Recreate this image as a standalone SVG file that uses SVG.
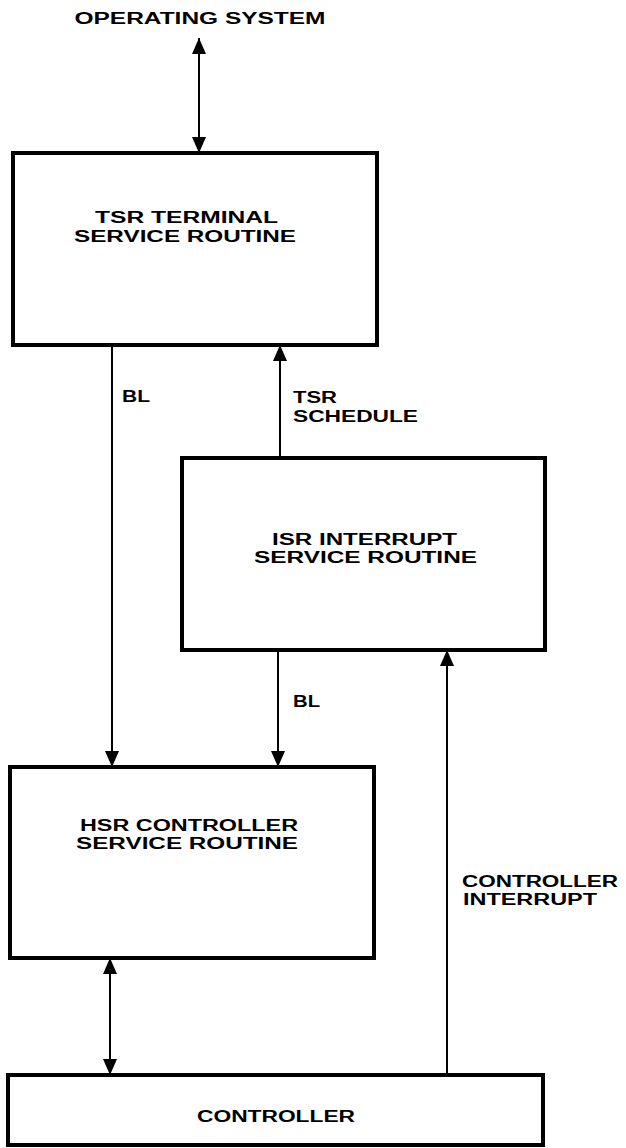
<svg xmlns="http://www.w3.org/2000/svg" width="626" height="1148" viewBox="0 0 626 1148">
  <style>
    .box { fill: none; stroke: #000; stroke-width: 4; stroke-linejoin: miter; }
    .conn { fill: none; stroke: #000; stroke-width: 2; }
    text { font-family: "Liberation Sans", "DejaVu Sans", sans-serif; font-size: 16px; font-weight: bold; fill: #000; }
    .c { text-anchor: middle; }
  </style>
  <defs>
    <marker id="arr" viewBox="0 0 16 14" refX="16" refY="7" markerWidth="16" markerHeight="14" markerUnits="userSpaceOnUse" orient="auto-start-reverse">
      <path d="M0,0 L16,7 L0,14 z" fill="#000"/>
    </marker>
  </defs>
  <rect width="626" height="1148" fill="#fff"/>

  <g id="os">
    <text class="c" x="200" y="24" textLength="251" lengthAdjust="spacingAndGlyphs">OPERATING SYSTEM</text>
  </g>

  <g id="tsr">
    <rect class="box" x="13" y="153" width="364" height="192"/>
    <text class="c" x="186.5" y="223" textLength="183" lengthAdjust="spacingAndGlyphs">TSR TERMINAL</text>
    <text class="c" x="185" y="242" textLength="222" lengthAdjust="spacingAndGlyphs">SERVICE ROUTINE</text>
  </g>

  <g id="isr">
    <rect class="box" x="182" y="458" width="363" height="192"/>
    <text class="c" x="364.5" y="545" textLength="185" lengthAdjust="spacingAndGlyphs">ISR INTERRUPT</text>
    <text class="c" x="365.5" y="563" textLength="223" lengthAdjust="spacingAndGlyphs">SERVICE ROUTINE</text>
  </g>

  <g id="hsr">
    <rect class="box" x="10" y="767" width="364" height="191"/>
    <text class="c" x="189" y="831" textLength="218" lengthAdjust="spacingAndGlyphs">HSR CONTROLLER</text>
    <text class="c" x="187" y="849" textLength="222" lengthAdjust="spacingAndGlyphs">SERVICE ROUTINE</text>
  </g>

  <g id="controller">
    <rect class="box" x="8" y="1075" width="535" height="70"/>
    <text class="c" x="276" y="1122" textLength="158" lengthAdjust="spacingAndGlyphs">CONTROLLER</text>
  </g>

  <g id="connectors">
    <line class="conn" x1="199" y1="38" x2="199" y2="153" marker-start="url(#arr)" marker-end="url(#arr)"/>
    <line class="conn" x1="112" y1="345" x2="112" y2="767" marker-end="url(#arr)"/>
    <line class="conn" x1="280" y1="458" x2="280" y2="345" marker-end="url(#arr)"/>
    <line class="conn" x1="278" y1="650" x2="278" y2="767" marker-end="url(#arr)"/>
    <line class="conn" x1="447" y1="1075" x2="447" y2="650" marker-end="url(#arr)"/>
    <line class="conn" x1="110" y1="958" x2="110" y2="1075" marker-start="url(#arr)" marker-end="url(#arr)"/>
    <text x="122" y="402" textLength="28" lengthAdjust="spacingAndGlyphs">BL</text>
    <text x="293" y="403" textLength="44" lengthAdjust="spacingAndGlyphs">TSR</text>
    <text x="293" y="422" textLength="125" lengthAdjust="spacingAndGlyphs">SCHEDULE</text>
    <text x="293" y="707" textLength="27" lengthAdjust="spacingAndGlyphs">BL</text>
    <text x="462" y="887" textLength="156" lengthAdjust="spacingAndGlyphs">CONTROLLER</text>
    <text x="463" y="905" textLength="134" lengthAdjust="spacingAndGlyphs">INTERRUPT</text>
  </g>
</svg>
